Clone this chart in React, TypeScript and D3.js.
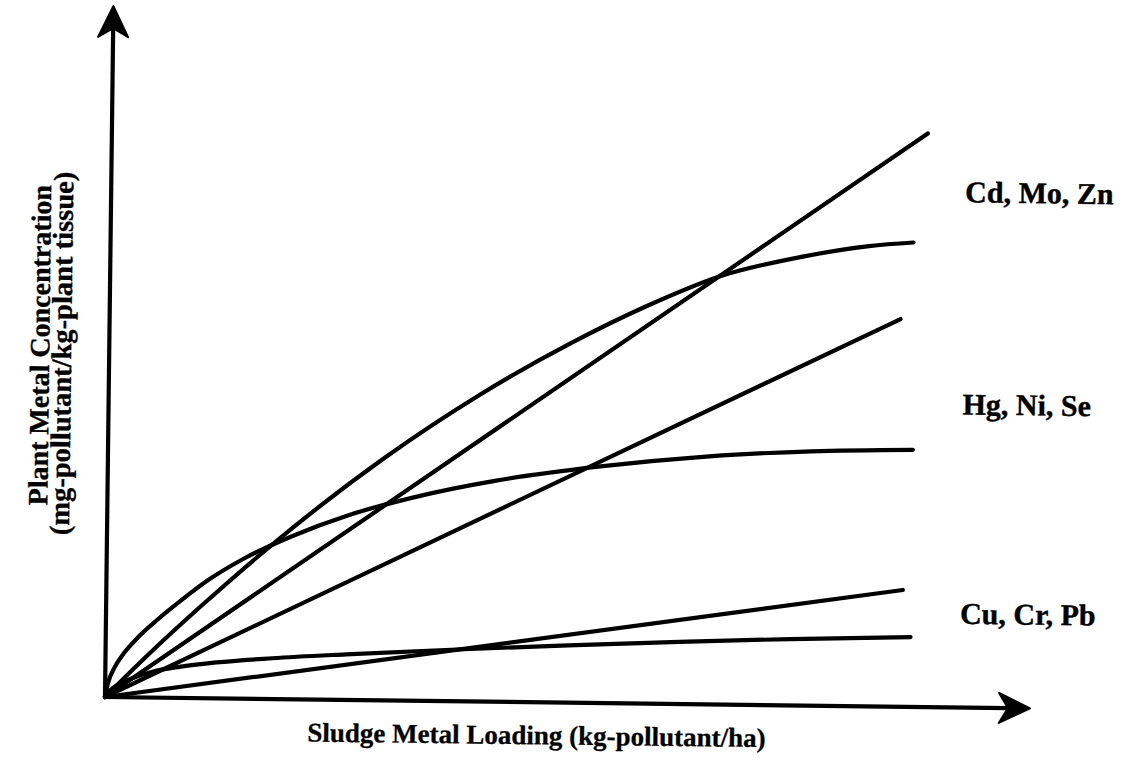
import React from "react";
import * as d3 from "d3";

// ---- data (arbitrary units: loading 0..100 on x, concentration 0..100 on y) ----
const loadingCdLine = [0, 88.2];
const concCdLine = [0, 83.0];

const loadingCdCurve = [0, 5, 10, 18, 30, 40, 50, 58, 65.8, 75, 82, 86.8];
const concCdCurve = [0, 6.7, 13.0, 22.5, 35.2, 44.3, 52.1, 57.5, 61.9, 65.0, 66.6, 67.2];

const loadingHgLine = [0, 85.5];
const concHgLine = [0, 56.1];

const loadingHgCurve = [0, 0.3, 1, 2, 3.5, 5.5, 8, 11, 15, 20, 26, 33, 42, 53, 65, 76, 87];
const concHgCurve = [0, 2.0, 4.3, 6.4, 8.7, 11.2, 14.0, 17.1, 20.4, 23.6, 26.7, 29.4, 32.0, 34.2, 35.9, 36.8, 37.2];

const loadingCuLine = [0, 86.1];
const concCuLine = [0, 16.9];

const loadingCuCurve = [0, 0.5, 1.5, 3, 5, 8, 12, 18, 26, 38, 50, 62, 74, 87];
const concCuCurve = [0, 0.9, 1.9, 2.8, 3.7, 4.5, 5.2, 5.9, 6.6, 7.5, 8.3, 9.0, 9.6, 10.1];

const groupLabels = ["Cd, Mo, Zn", "Hg, Ni, Se", "Cu, Cr, Pb"];
const groupLabelConc = [73.1, 42.4, 12.1];
const xAxisTitle = "Sludge Metal Loading (kg-pollutant/ha)";
const yAxisTitle = ["Plant Metal Concentration", "(mg-pollutant/kg-plant tissue)"];

const W = 1123;
const H = 758;
const OX = 105;
const OY = 697;

export default function App() {
  const x = d3.scaleLinear().domain([0, 100]).range([OX, 1030]);
  const y = d3.scaleLinear().domain([0, 100]).range([OY, 6]);

  const mk = (xs: number[], ys: number[]) =>
    d3
      .line<number>()
      .x((_, i) => x(xs[i]))
      .y((_, i) => y(ys[i]))
      .curve(d3.curveMonotoneX)(xs.map((_, i) => i)) as string;

  const series = [
    mk(loadingCdLine, concCdLine),
    mk(loadingCdCurve, concCdCurve),
    mk(loadingHgLine, concHgLine),
    mk(loadingHgCurve, concHgCurve),
    mk(loadingCuLine, concCuLine),
    mk(loadingCuCurve, concCuCurve),
  ];

  const xEnd = x(100);
  const yEnd = y(100);
  const aL = 31; // arrow length
  const aW = 15; // arrow half width
  const aN = 22; // notch
  const xArrow = `M${xEnd},${OY} L${xEnd - aL},${OY - aW} L${xEnd - aN},${OY} L${xEnd - aL},${OY + aW} Z`;
  const yArrow = `M${OX},${yEnd} L${OX - aW},${yEnd + aL} L${OX},${yEnd + aN} L${OX + aW},${yEnd + aL} Z`;

  const font = "'Liberation Serif', 'Times New Roman', serif";

  return (
    <svg
      width={W}
      height={H}
      style={{ position: "absolute", left: 0, top: 0, background: "#fff" }}
    >
      <rect width={W} height={H} fill="#fff" />
      <g transform={`rotate(0.7, ${OX}, ${OY})`}>
        {series.map((d, i) => (
          <path
            key={i}
            d={d}
            fill="none"
            stroke="#000"
            strokeWidth={4.2}
            strokeLinecap="round"
            strokeLinejoin="round"
          />
        ))}
        <line x1={OX} y1={OY} x2={xEnd - aN} y2={OY} stroke="#000" strokeWidth={4.2} />
        <line x1={OX} y1={OY} x2={OX} y2={yEnd + aN} stroke="#000" strokeWidth={4.2} />
        <path d={xArrow} fill="#000" stroke="#000" strokeWidth={2} strokeLinejoin="round" />
        <path d={yArrow} fill="#000" stroke="#000" strokeWidth={2} strokeLinejoin="round" />

        {groupLabels.map((t, i) => (
          <text
            key={t}
            x={959}
            y={y(groupLabelConc[i])}
            fontFamily={font}
            fontWeight="bold"
            fontSize={30}
            stroke="#000"
            strokeWidth={0.4}
            fill="#000"
          >
            {t}
          </text>
        ))}

        <text
          x={537}
          y={739}
          textAnchor="middle"
          fontFamily={font}
          fontWeight="bold"
          fontSize={27}
          stroke="#000"
          strokeWidth={0.3}
          fill="#000"
        >
          {xAxisTitle}
        </text>

        <text
          transform={`translate(45, 346) rotate(-90)`}
          textAnchor="middle"
          fontFamily={font}
          fontWeight="bold"
          fontSize={28}
          stroke="#000"
          strokeWidth={0.3}
          fill="#000"
        >
          {yAxisTitle[0]}
        </text>
        <text
          transform={`translate(67, 354) rotate(-90)`}
          textAnchor="middle"
          fontFamily={font}
          fontWeight="bold"
          fontSize={28.5}
          stroke="#000"
          strokeWidth={0.3}
          fill="#000"
        >
          {yAxisTitle[1]}
        </text>
      </g>
    </svg>
  );
}
